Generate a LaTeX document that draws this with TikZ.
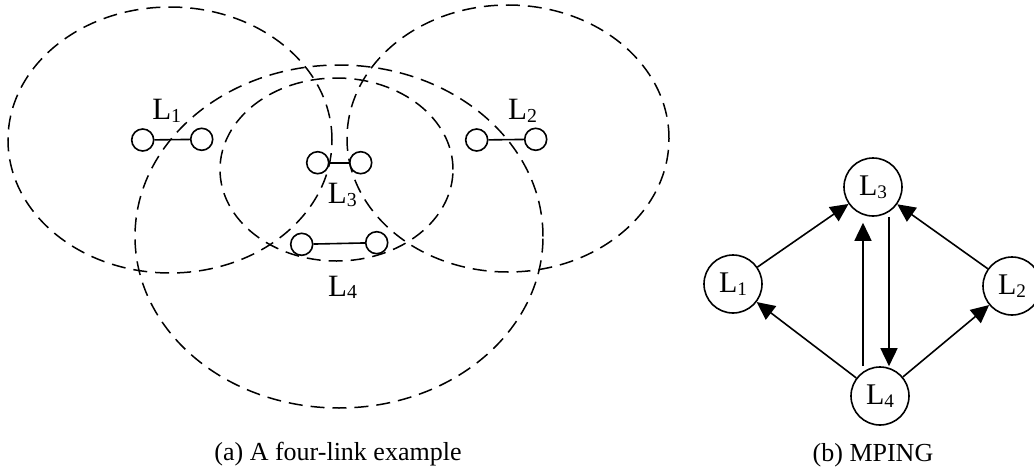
\documentclass[tikz,border=0pt]{standalone}
\usepackage{fontspec}
\usepackage{graphicx}
\setmainfont{Liberation Serif}
\usetikzlibrary{arrows.meta,calc}

% link name with a small, slightly lowered index
\newcommand{\Lk}[1]{L\raisebox{-0.09em}{\scalebox{0.64}{#1}}}

\begin{document}
\begin{tikzpicture}[x=0.5pt,y=-0.5pt,
  reach/.style={dash pattern=on 7pt off 4pt, line width=0.75pt},
  txrx/.style={circle, draw, line width=0.8pt, minimum size=11pt, inner sep=0pt},
  link/.style={line width=0.8pt},
  lab/.style={inner sep=0pt, font=\fontsize{15.5pt}{18pt}\selectfont},
  vert/.style={circle, draw, line width=0.8pt, minimum size=29pt, inner sep=0pt,
               font=\fontsize{15pt}{18pt}\selectfont},
  arr/.style={-{Triangle[length=9pt,width=8.5pt]}, line width=0.8pt},
  captext/.style={inner sep=0pt, font=\fontsize{13pt}{15pt}\selectfont}]
\useasboundingbox (0,0) rectangle (1034,471);

% interference ranges
\draw[reach] (170,140) ellipse [x radius=81pt, y radius=66.5pt];
\draw[reach] (508,138.5) ellipse [x radius=80.5pt, y radius=66.75pt];
\draw[reach] (336.5,169.5) ellipse [x radius=58.25pt, y radius=45.75pt];
\draw[reach] (339,236.5) ellipse [x radius=102pt, y radius=85.75pt];

% links: transmitter and receiver
\node[txrx] (s1) at (142.7,140) {};
\node[txrx] (r1) at (201.7,139.3) {};
\node[txrx] (s2) at (476.7,140) {};
\node[txrx] (r2) at (535.7,139.3) {};
\node[txrx] (s3) at (317.7,162.7) {};
\node[txrx] (r3) at (360.7,162.7) {};
\node[txrx] (s4) at (301.7,244.3) {};
\node[txrx] (r4) at (376.7,242.7) {};
\draw[link] (s1) -- (r1);
\draw[link] (s2) -- (r2);
\draw[link] (s3) -- (r3);
\draw[link] (s4) -- (r4);

\node[lab, anchor=base] (t1) at (166.7,119.3) {\Lk{1}};
\node[lab, anchor=base] (t2) at (522.5,119.3) {\Lk{2}};
\node[lab, anchor=base] (t3) at (342.3,203.3) {\Lk{3}};
\node[lab, anchor=base] (t4) at (342.5,296) {\Lk{4}};

\node[captext, anchor=base] (capa) at (338,460) {(a) A four-link example};

% MPING graph
\node[vert] (L3) at (873,187) {\Lk{3}};
\node[vert] (L1) at (733,284) {\Lk{1}};
\node[vert] (L2) at (1012,286) {\Lk{2}};
\node[vert] (L4) at (880,396) {\Lk{4}};

\draw[arr] (L1) -- (L3);
\draw[arr] (L2) -- (L3);
\draw[arr] (L4) -- (L1);
\draw[arr] (L4) -- (L2);

\coordinate (up) at ([xshift=-8.5pt]L4.north);
\coordinate (uptip) at (up |- L3.south);
\draw[arr] (up) -- ([yshift=-3pt]uptip);
\coordinate (dn) at ([xshift=8pt]L3.south);
\draw[arr] (dn) -- (dn |- L4.north);

\node[captext, anchor=base] (capb) at (873,461.7) {(b) MPING};
\end{tikzpicture}
\end{document}
